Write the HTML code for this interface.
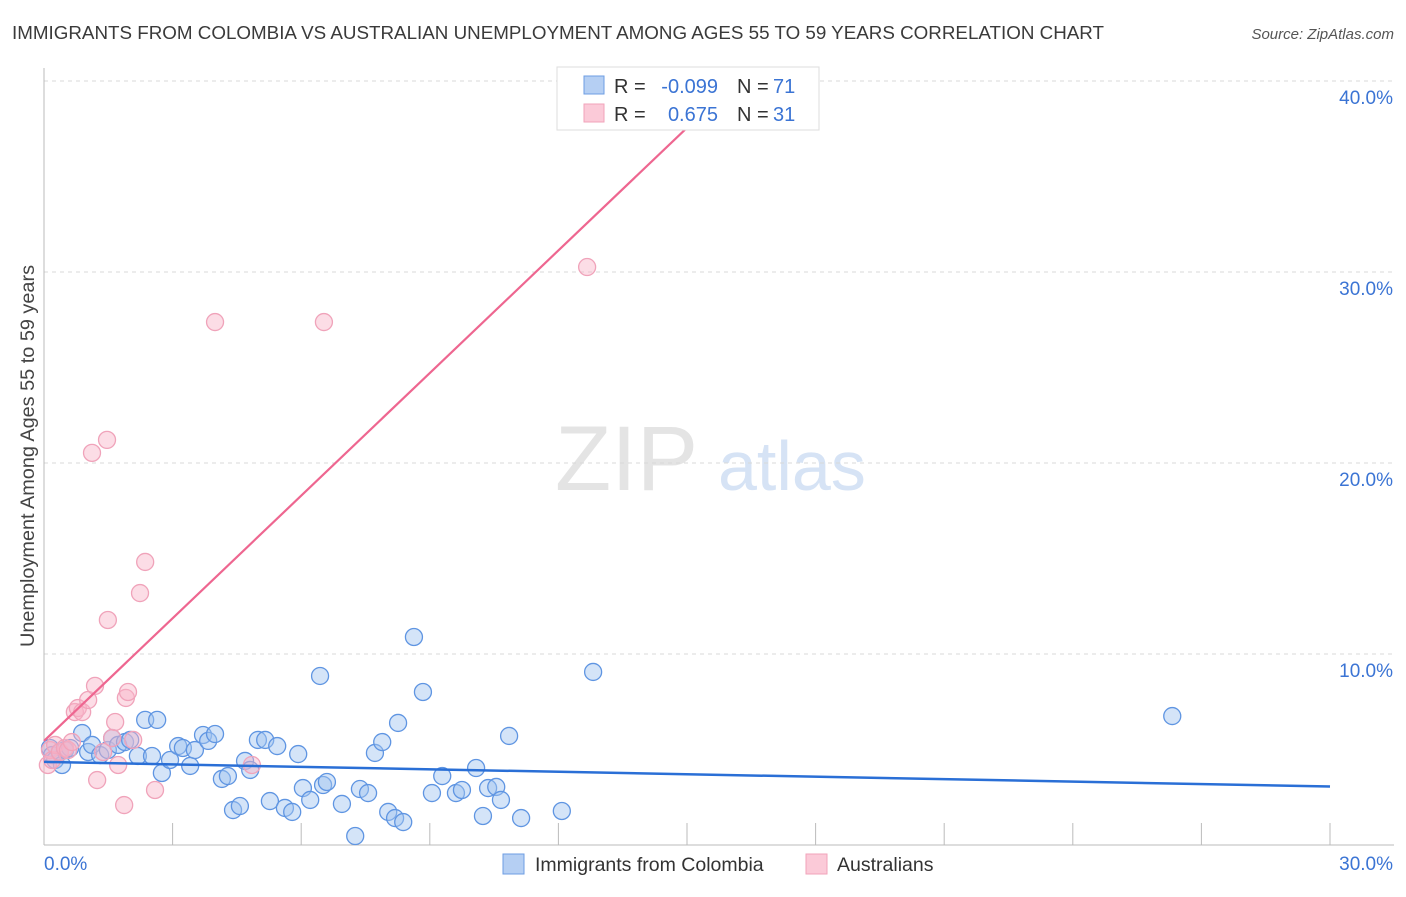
<!DOCTYPE html>
<html><head><meta charset="utf-8"><style>
body{margin:0;background:#fff;font-family:"Liberation Sans",sans-serif;}
svg text{font-family:"Liberation Sans",sans-serif;}
</style></head><body>
<svg id="chart" width="1406" height="892" viewBox="0 0 1406 892" xmlns="http://www.w3.org/2000/svg">
<text x="12" y="39" font-size="18" fill="#3a3a3a" textLength="1092" lengthAdjust="spacingAndGlyphs">IMMIGRANTS FROM COLOMBIA VS AUSTRALIAN UNEMPLOYMENT AMONG AGES 55 TO 59 YEARS CORRELATION CHART</text>
<text x="1394" y="39" font-size="15" fill="#555" text-anchor="end" font-style="italic">Source: ZipAtlas.com</text>
<g>
<text x="555" y="490" font-size="92" fill="#e4e4e4" font-family="Liberation Serif,serif">ZIP</text>
<text x="718" y="490" font-size="70" fill="#d6e3f5">atlas</text>
</g>
<g id="grid"></g>
<g id="axes"></g>
<g id="pts"></g>
<g id="lines"></g>
<text transform="translate(34,456) rotate(-90)" font-size="19" fill="#444" text-anchor="middle" textLength="382" lengthAdjust="spacingAndGlyphs">Unemployment Among Ages 55 to 59 years</text>
<g>
<rect x="557" y="67" width="262" height="63" fill="#fff" stroke="#ddd"/>
<rect x="584" y="76" width="20" height="18" fill="#b5cff3" stroke="#6d9de3"/>
<rect x="584" y="104" width="20" height="18" fill="#fbcad8" stroke="#f2a3ba"/>
<text x="614" y="93" font-size="20" fill="#333">R =</text>
<text x="718" y="93" font-size="20" fill="#3b74d4" text-anchor="end">-0.099</text>
<text x="737" y="93" font-size="20" fill="#333">N =</text>
<text x="773" y="93" font-size="20" fill="#3b74d4">71</text>
<text x="614" y="121" font-size="20" fill="#333">R =</text>
<text x="718" y="121" font-size="20" fill="#3b74d4" text-anchor="end">0.675</text>
<text x="737" y="121" font-size="20" fill="#333">N =</text>
<text x="773" y="121" font-size="20" fill="#3b74d4">31</text>
</g>
<g>
<rect x="503" y="854" width="21" height="20" fill="#b5cff3" stroke="#6d9de3"/>
<text x="535" y="871" font-size="19.5" fill="#333">Immigrants from Colombia</text>
<rect x="806" y="854" width="21" height="20" fill="#fbcad8" stroke="#f2a3ba"/>
<text x="837" y="871" font-size="19.5" fill="#333">Australians</text>
</g>
</svg>
<script>
const xTicks=[0,3,6,9,12,15,18,21,24,27,30];
const yTicks=[10,20,30,40];
const yTickLabels=["10.0%","20.0%","30.0%","40.0%"];
const xEndLabels=["0.0%","30.0%"];
const blueX=[0.14,0.19,0.26,0.37,0.42,0.49,0.61,0.89,1.03,1.12,1.31,1.49,1.59,1.73,1.89,2.01,2.19,2.36,2.52,2.64,2.75,2.94,3.13,3.24,3.41,3.52,3.71,3.83,3.99,4.15,4.29,4.41,4.57,4.69,4.81,4.99,5.16,5.27,5.44,5.62,5.79,5.93,6.04,6.21,6.44,6.51,6.60,6.95,7.26,7.37,7.56,7.72,7.89,8.03,8.19,8.26,8.38,8.63,8.84,9.05,9.29,9.61,9.75,10.08,10.24,10.36,10.55,10.66,10.85,11.13,12.08,12.81,26.32];
const blueY=[5.08,4.71,4.45,4.87,4.19,4.97,5.08,5.86,4.87,5.24,4.71,4.97,5.60,5.24,5.39,5.50,4.66,6.55,4.66,6.55,3.77,4.45,5.18,5.08,4.14,4.97,5.76,5.45,5.81,3.46,3.61,1.83,2.04,4.40,3.93,5.50,5.50,2.30,5.18,1.94,1.73,4.76,2.98,2.36,8.85,3.14,3.30,2.15,0.47,2.93,2.72,4.82,5.39,1.73,1.41,6.39,1.20,10.89,8.01,2.72,3.61,2.72,2.88,4.03,1.52,2.98,3.04,2.36,5.71,1.41,1.78,9.06,6.75];
const pinkX=[0.09,0.14,0.19,0.26,0.37,0.49,0.56,0.65,0.72,0.79,0.89,1.03,1.19,1.24,1.38,1.49,1.59,1.66,1.73,1.87,1.91,1.96,2.08,2.24,2.36,2.59,1.12,1.47,3.99,4.85,6.53,12.67];
const pinkY=[4.19,4.97,4.45,5.24,4.87,5.08,4.97,5.39,6.96,7.17,6.96,7.59,8.33,3.40,4.87,11.78,5.60,6.44,4.19,2.09,7.70,8.01,5.50,13.19,14.82,2.88,20.53,21.21,27.38,4.19,27.38,30.26];
const blueTrend=[[0,4.35],[30,3.06]];
const pinkTrend=[[0,5.45],[15.07,37.7]];
const NS="http://www.w3.org/2000/svg";
const X=v=>44+v*(1286/30);
const Y=v=>845-v*19.1;
function mk(tag,attrs,parent){const e=document.createElementNS(NS,tag);for(const k in attrs)e.setAttribute(k,attrs[k]);document.getElementById(parent).appendChild(e);return e;}
yTicks.forEach((t,i)=>{
 const g=mk('line',{x1:44,x2:1394,y1:Y(t),y2:Y(t),stroke:'#d8d8d8','stroke-dasharray':'4,4'},'grid');
 
 
 const l=mk('text',{x:1393,y:Y(t)+23,'font-size':19,fill:'#3b74d4','text-anchor':'end'},'grid');
 l.textContent=yTickLabels[i];
 
 
});
mk('line',{x1:44,x2:1394,y1:Y(0),y2:Y(0),stroke:'#bbb'},'axes');
const ya=mk('line',{x1:44,x2:44,y1:68,y2:Y(0),stroke:'#bbb'},'axes');


xTicks.forEach(t=>{
 const k=mk('line',{x1:X(t),x2:X(t),y1:823,y2:845,stroke:'#bbb'},'axes');
 
 
});
const xl0=mk('text',{x:44,y:870,'font-size':19,fill:'#3b74d4'},'axes');xl0.textContent=xEndLabels[0];


const xl1=mk('text',{x:1393,y:870,'font-size':19,fill:'#3b74d4','text-anchor':'end'},'axes');xl1.textContent=xEndLabels[1];


blueX.forEach((x,i)=>{
 const c=mk('circle',{cx:X(x),cy:Y(blueY[i]),r:8.5,fill:'rgba(160,196,240,0.45)',stroke:'#5f95e2','stroke-width':1.3},'pts');
 
 
});
pinkX.forEach((x,i)=>{
 const c=mk('circle',{cx:X(x),cy:Y(pinkY[i]),r:8.5,fill:'rgba(248,180,200,0.45)',stroke:'#f0a3ba','stroke-width':1.3},'pts');
 
 
});
const bl=mk('line',{x1:X(blueTrend[0][0]),y1:Y(blueTrend[0][1]),x2:X(blueTrend[1][0]),y2:Y(blueTrend[1][1]),stroke:'#2a6fd6','stroke-width':2.5},'lines');


const pl=mk('line',{x1:X(pinkTrend[0][0]),y1:Y(pinkTrend[0][1]),x2:X(pinkTrend[1][0]),y2:Y(pinkTrend[1][1]),stroke:'#ee6690','stroke-width':2.2},'lines');


</script>
</body></html>
